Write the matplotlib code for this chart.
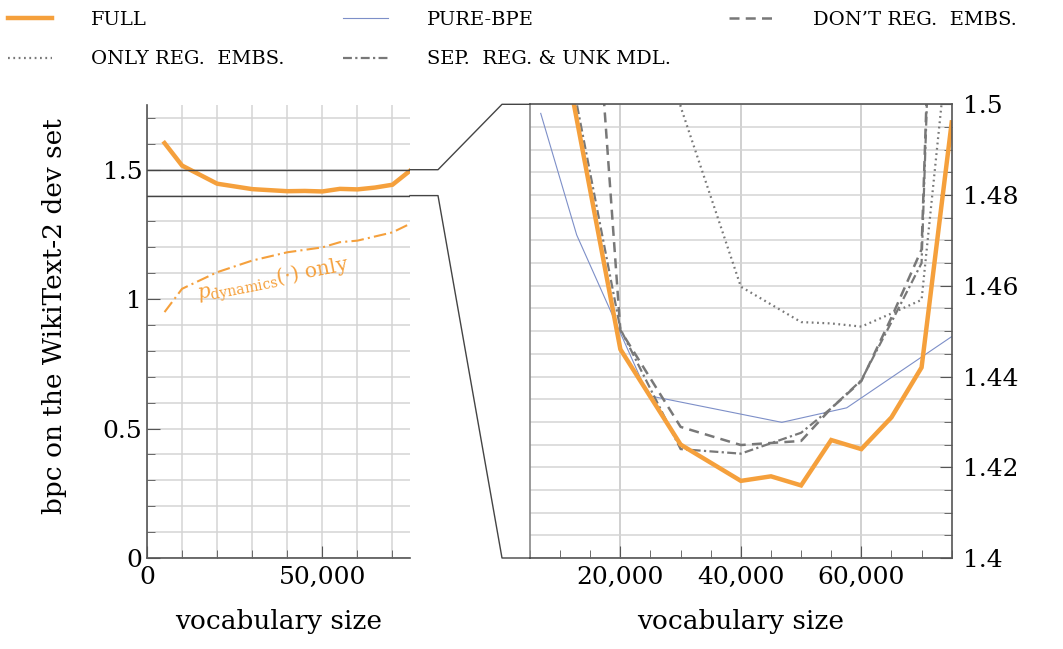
import numpy as np
import matplotlib.pyplot as plt
from matplotlib.ticker import MultipleLocator, FixedLocator, FuncFormatter
from matplotlib.lines import Line2D

plt.rcParams['font.family'] = 'DejaVu Serif'
plt.rcParams['mathtext.fontset'] = 'dejavuserif'

# data
full_x = [5000, 10000, 20000, 30000, 40000, 45000, 50000, 55000, 60000, 65000, 70000, 75000]
full_y = [1.603, 1.516, 1.446, 1.425, 1.417, 1.418, 1.416, 1.426, 1.424, 1.431, 1.442, 1.496]

dyn_x = [5000, 10000, 20000, 30000, 40000, 50000, 55000, 60000, 70000, 75000]
dyn_y = [0.950, 1.040, 1.104, 1.149, 1.181, 1.200, 1.220, 1.226, 1.258, 1.291]

bpe_x = [6780, 12750, 24640, 46800, 57570, 75000]
bpe_y = [1.498, 1.4712, 1.4358, 1.4299, 1.4331, 1.4488]

dont_x = [15000, 20000, 30000, 40000, 50000, 55000, 60000, 65000, 70000, 75000]
dont_y = [1.543, 1.4502, 1.4289, 1.4249, 1.4258, 1.4330, 1.4390, 1.453, 1.468, 1.668]

only_x = [20000, 30000, 40000, 50000, 55000, 60000, 65000, 70000, 75000]
only_y = [1.62, 1.4995, 1.4598, 1.4520, 1.4517, 1.4510, 1.4539, 1.4569, 1.522]

sep_x = [10000, 20000, 30000, 40000, 50000, 55000, 60000, 65000, 70000, 75000]
sep_y = [1.519, 1.4505, 1.4240, 1.4230, 1.4276, 1.4330, 1.4392, 1.452, 1.465, 1.665]

labels = ['FULL', 'ONLY REG.  EMBS.', 'PURE-BPE', 'SEP.  REG. & UNK MDL.', 'DON\u2019T REG.  EMBS.']

orange = '#f5a03c'
blue = '#7d8fc8'
gray = '#787878'
grid_c = '#d4d4d4'
spine_c = '#555555'

W, H = 1063, 649
fig = plt.figure(figsize=(W / 100, H / 100), dpi=100)
ax1 = fig.add_axes([147 / W, 1 - 558 / H, 263 / W, 453 / H])
ax2 = fig.add_axes([530 / W, 1 - 558 / H, 421.7 / W, 453.7 / H])

st_full = dict(color=orange, lw=3.2, solid_joinstyle='miter')
st_bpe = dict(color=blue, lw=0.8)
st_dont = dict(color=gray, lw=1.8, dashes=(4, 2.5))
st_only = dict(color=gray, lw=1.6, dashes=(0.8, 1.6))
st_sep = dict(color=gray, lw=1.6, dashes=(4, 1.5, 1, 1.5))

# left panel
ax1.plot(full_x, full_y, **st_full)
ax1.plot(dyn_x, dyn_y, color=orange, lw=1.5, dashes=(6, 2, 1, 2))
ax1.text(36000, 1.072, r'$p_{\mathrm{dynamics}}(\cdot)$ only', color=orange,
         fontsize=14.5, rotation=11, ha='center', va='center')
ax1.set_xlim(0, 75000)
ax1.set_ylim(0, 1.75)
ax1.xaxis.set_major_locator(FixedLocator([0, 50000]))
ax1.xaxis.set_minor_locator(MultipleLocator(10000))
ax1.yaxis.set_major_locator(MultipleLocator(0.5))
ax1.yaxis.set_minor_locator(MultipleLocator(0.1))
ax1.xaxis.set_major_formatter(FuncFormatter(lambda v, p: '{:,.0f}'.format(v)))
ax1.yaxis.set_major_formatter(FuncFormatter(lambda v, p: '%g' % v))
ax1.grid(True, which='both', color=grid_c, lw=1.1)
ax1.set_axisbelow(True)
for s in ['top', 'right']:
    ax1.spines[s].set_visible(False)
for s in ['left', 'bottom']:
    ax1.spines[s].set_color(spine_c)
    ax1.spines[s].set_linewidth(1.2)
ax1.tick_params(which='both', direction='in', color=spine_c, labelsize=18)
ax1.tick_params(which='major', length=9)
ax1.tick_params(which='minor', length=6)
ax1.tick_params(axis='x', pad=6)
ax1.set_xlabel('vocabulary size', fontsize=19, labelpad=14)
# zoom window lines
for yv in [1.5, 1.4]:
    ax1.axhline(yv, color='#444444', lw=1.0, zorder=3)

# right panel
ax2.plot(bpe_x, bpe_y, **st_bpe)
ax2.plot(only_x, only_y, **st_only)
ax2.plot(sep_x, sep_y, **st_sep)
ax2.plot(dont_x, dont_y, **st_dont)
ax2.plot(full_x, full_y, **st_full)
ax2.set_xlim(5000, 75000)
ax2.set_ylim(1.4, 1.5)
ax2.xaxis.set_major_locator(MultipleLocator(20000))
ax2.xaxis.set_minor_locator(MultipleLocator(5000))
ax2.yaxis.set_major_locator(MultipleLocator(0.02))
ax2.yaxis.set_minor_locator(MultipleLocator(0.005))
ax2.xaxis.set_major_formatter(FuncFormatter(lambda v, p: '{:,.0f}'.format(v)))
ax2.yaxis.set_major_formatter(FuncFormatter(lambda v, p: '%g' % round(v, 3)))
ax2.grid(True, which='major', axis='x', color='#c4c4c4', lw=1.1)
ax2.grid(True, which='both', axis='y', color=grid_c, lw=1.1)
ax2.set_axisbelow(True)
ax2.yaxis.tick_right()
for s in ax2.spines.values():
    s.set_color(spine_c)
    s.set_linewidth(1.2)
ax2.spines['left'].set_color('#888888')
ax2.tick_params(which='both', direction='in', color=spine_c, labelsize=18)
ax2.tick_params(which='major', length=9)
ax2.tick_params(which='minor', length=6)
ax2.tick_params(axis='x', pad=6)
ax2.tick_params(axis='y', pad=8)
ax2.set_xlabel('vocabulary size', fontsize=19, labelpad=14)

fig.text(55 / W, 1 - 316 / H, 'bpc on the WikiText-2 dev set', rotation=90,
         ha='center', va='center', fontsize=19)

# connector lines between the panels
ext = 28 / W
to_fig = fig.transFigure.inverted()
x_r1 = ax1.get_position().x1 + ext
x_l2 = ax2.get_position().x0 - ext
y_hi = to_fig.transform(ax1.transData.transform((0, 1.5)))[1]
y_lo = to_fig.transform(ax1.transData.transform((0, 1.4)))[1]
p2 = ax2.get_position()
x_a1 = ax1.get_position().x1
for ya, yb in [(y_hi, p2.y1), (y_lo, p2.y0)]:
    fig.add_artist(Line2D([x_a1, x_r1, x_l2, p2.x0], [ya, ya, yb, yb],
                          transform=fig.transFigure, color='#444444', lw=1.0))

# legend
handles = [Line2D([], [], **st_full), Line2D([], [], **st_only),
           Line2D([], [], **st_bpe), Line2D([], [], **st_sep),
           Line2D([], [], **st_dont)]
fig.legend(handles, labels, loc='upper left', bbox_to_anchor=(0.0, 0.995), ncol=3,
           frameon=False, fontsize=14, handlelength=2.3, handletextpad=2.0,
           columnspacing=3.0, labelspacing=1.1, borderaxespad=0.2, borderpad=0.2)

fig.savefig('out.png', dpi=100)
